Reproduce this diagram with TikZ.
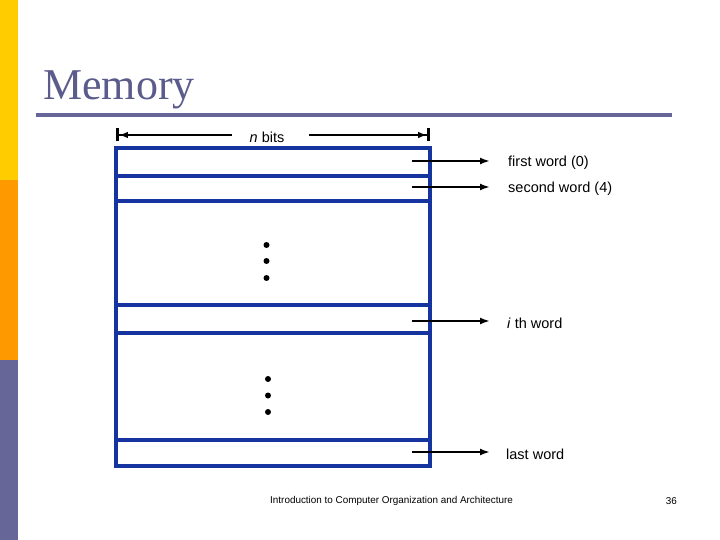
\documentclass[tikz,border=0pt]{standalone}
\usepackage{fontspec}
\setmainfont{Liberation Sans}
\newfontfamily\titlefont{Liberation Serif}
\usetikzlibrary{arrows.meta}
\definecolor{barYellow}{RGB}{255,204,0}
\definecolor{barOrange}{RGB}{255,153,0}
\definecolor{barSlate}{RGB}{102,102,153}
\definecolor{titleCol}{RGB}{92,92,140}
\definecolor{memBlue}{RGB}{22,52,160}
\tikzset{
  memline/.style={draw=memBlue, line width=3.2pt},
  wordarrow/.style={draw=black, line width=2.9pt, -{Latex[length=10pt,width=7pt]}},
  wordlabel/.style={anchor=west, inner sep=0pt, font=\fontsize{14.5}{16}\selectfont},
  dimline/.style={draw=black, line width=2.8pt},
  dotmark/.style={circle, fill=black, inner sep=0pt, minimum size=6pt}
}
\begin{document}
\begin{tikzpicture}[x=1pt,y=-1pt]
\useasboundingbox (0,0) rectangle (720,540);
% side bar
\fill[barYellow] (0,0) rectangle (18,180);
\fill[barOrange] (0,180) rectangle (18,360);
\fill[barSlate] (0,360) rectangle (18,540);
% title
\node[anchor=base west, inner sep=0pt, text=titleCol, font=\titlefont\fontsize{44}{48}\selectfont] (title) at (43,100) {Memory};
\draw[barSlate, line width=3.3pt] (36,115) -- (672,115);
% memory box
\draw[memline] (116,148) rectangle (430,466);
\draw[memline] (116,176) -- (430,176);
\draw[memline] (116,201) -- (430,201);
\draw[memline] (116,305) -- (430,305);
\draw[memline] (116,333) -- (430,333);
\draw[memline] (116,440) -- (430,440);
% n bits dimension
\node[inner sep=0pt, font=\fontsize{14.5}{16}\selectfont] (nbits) at (267,137) {\textit{n} bits};
\coordinate (dl) at (116,135);
\coordinate (dla) at (232,135);
\coordinate (dra) at (309,135);
\coordinate (dr) at (430,135);
\draw[dimline, {Bar[width=13pt]Latex[length=9pt,width=6.5pt]}-] (dl) -- (dla);
\draw[dimline, -{Latex[length=9pt,width=6.5pt]Bar[width=13pt]}] (dra) -- (dr);
% word arrows
\coordinate (a1s) at (412,161); \coordinate (a1e) at (490,161);
\coordinate (a2s) at (412,187); \coordinate (a2e) at (490,187);
\coordinate (a3s) at (412,321); \coordinate (a3e) at (490,321);
\coordinate (a4s) at (412,452); \coordinate (a4e) at (490,452);
\draw[wordarrow] (a1s) -- (a1e);
\draw[wordarrow] (a2s) -- (a2e);
\draw[wordarrow] (a3s) -- (a3e);
\draw[wordarrow] (a4s) -- (a4e);
\node[wordlabel] (l1) at (508,163) {first word (0)};
\node[wordlabel] (l2) at (508,189) {second word (4)};
\node[wordlabel] (l3) at (507,323) {\textit{i} th word};
\node[wordlabel] (l4) at (506,454) {last word};
% dots
\node[dotmark] (d1) at (266.5,245) {};
\node[dotmark] (d2) at (266.5,261) {};
\node[dotmark] (d3) at (266.5,278) {};
\node[dotmark] (d4) at (268,379) {};
\node[dotmark] (d5) at (268,395.5) {};
\node[dotmark] (d6) at (268,412) {};
% footer
\node[anchor=west, inner sep=0pt, font=\fontsize{9.9}{11}\selectfont] (footer) at (270,501) {Introduction to Computer Organization and Architecture};
\node[anchor=east, inner sep=0pt, font=\fontsize{9.9}{11}\selectfont] (page) at (677,501) {36};
\end{tikzpicture}
\end{document}
